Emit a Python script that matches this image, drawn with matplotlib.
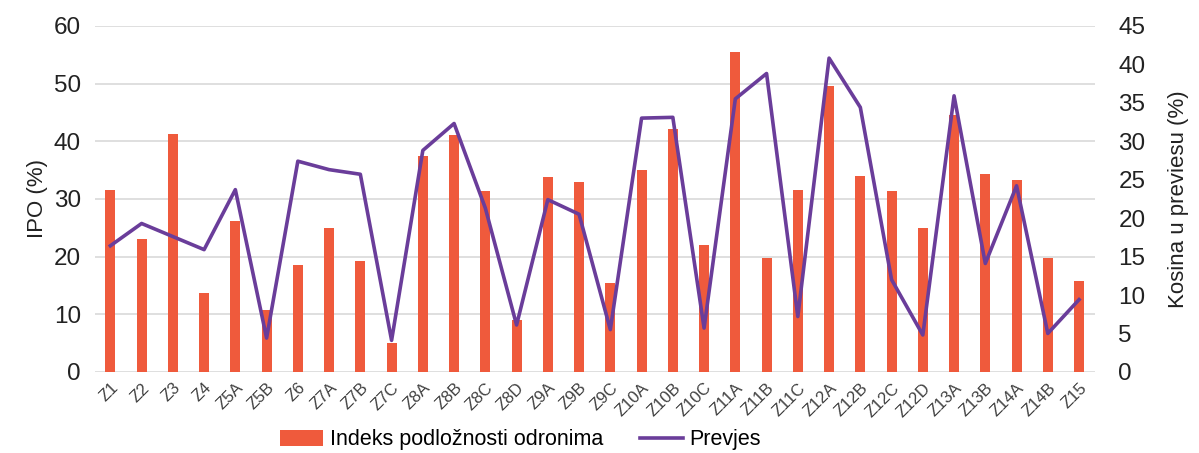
import matplotlib
matplotlib.use("Agg")
import matplotlib.pyplot as plt
import numpy as np

plt.rcParams['font.family'] = ['Liberation Sans', 'DejaVu Sans']

categories = ["Z1", "Z2", "Z3", "Z4", "Z5A", "Z5B", "Z6", "Z7A", "Z7B", "Z7C",
              "Z8A", "Z8B", "Z8C", "Z8D", "Z9A", "Z9B", "Z9C", "Z10A", "Z10B", "Z10C",
              "Z11A", "Z11B", "Z11C", "Z12A", "Z12B", "Z12C", "Z12D", "Z13A", "Z13B",
              "Z14A", "Z14B", "Z15"]
ipo = [31.6, 23.1, 41.3, 13.6, 26.2, 10.7, 18.6, 25.0, 19.3, 5.0,
       37.5, 41.0, 31.3, 9.0, 33.8, 32.9, 15.5, 35.0, 42.1, 22.0,
       55.5, 19.7, 31.6, 49.5, 34.0, 31.4, 24.9, 44.6, 34.3,
       33.2, 19.8, 15.8]
prevjes = [16.4, 19.3, 17.6, 15.9, 23.7, 4.4, 27.4, 26.3, 25.7, 4.1,
           28.8, 32.3, 21.3, 6.1, 22.4, 20.5, 5.5, 33.0, 33.1, 5.7,
           35.5, 38.8, 7.2, 40.8, 34.4, 12.0, 4.8, 35.9, 14.1,
           24.2, 5.0, 9.4]

bar_color = "#EF5A3C"
line_color = "#6A3D9A"
text_color = "#222222"

fig = plt.figure(figsize=(11.99, 4.53), dpi=100)
ax = fig.add_axes([0.079, 0.179, 0.834, 0.764])
x = np.arange(len(categories))
bars = ax.bar(x, ipo, width=0.32, color=bar_color, zorder=2,
              label="Indeks podložnosti odronima")
ax.set_ylim(0, 60)
ax.set_yticks(np.arange(0, 61, 10))
ax.set_xlim(-0.5, len(categories) - 0.5)
ax.grid(axis='y', color='#D9D9D9', linewidth=1.2, zorder=0)
ax.set_axisbelow(True)
for s in ax.spines.values():
    s.set_visible(False)
ax.tick_params(axis='both', length=0)
ax.tick_params(axis='y', labelsize=17.5, labelcolor=text_color, pad=10)
ax.set_xticks(x)
ax.set_xticklabels(categories, rotation=45, ha='right', va='top',
                   rotation_mode='anchor', fontsize=12, color='#404040')
ax.tick_params(axis='x', pad=6)
ax.set_ylabel("IPO (%)", fontsize=16, color=text_color, labelpad=4)

ax2 = ax.twinx()
line, = ax2.plot(x, prevjes, color=line_color, linewidth=2.6, zorder=3,
                 label="Prevjes")
ax2.set_ylim(0, 45)
ax2.set_yticks(np.arange(0, 46, 5))
for s in ax2.spines.values():
    s.set_visible(False)
ax2.tick_params(axis='y', length=0, labelsize=17.5, labelcolor=text_color, pad=17)
ax2.set_ylabel("Kosina u previesu (%)", fontsize=16, color=text_color, labelpad=16)

fig.legend([bars, line], ["Indeks podložnosti odronima", "Prevjes"],
           loc='center', bbox_to_anchor=(0.434, 1 - 440 / 453), ncol=2,
           frameon=False, fontsize=15.5, handlelength=2.0, columnspacing=1.7,
           handletextpad=0.3)

fig.savefig("out.png", dpi=100)
